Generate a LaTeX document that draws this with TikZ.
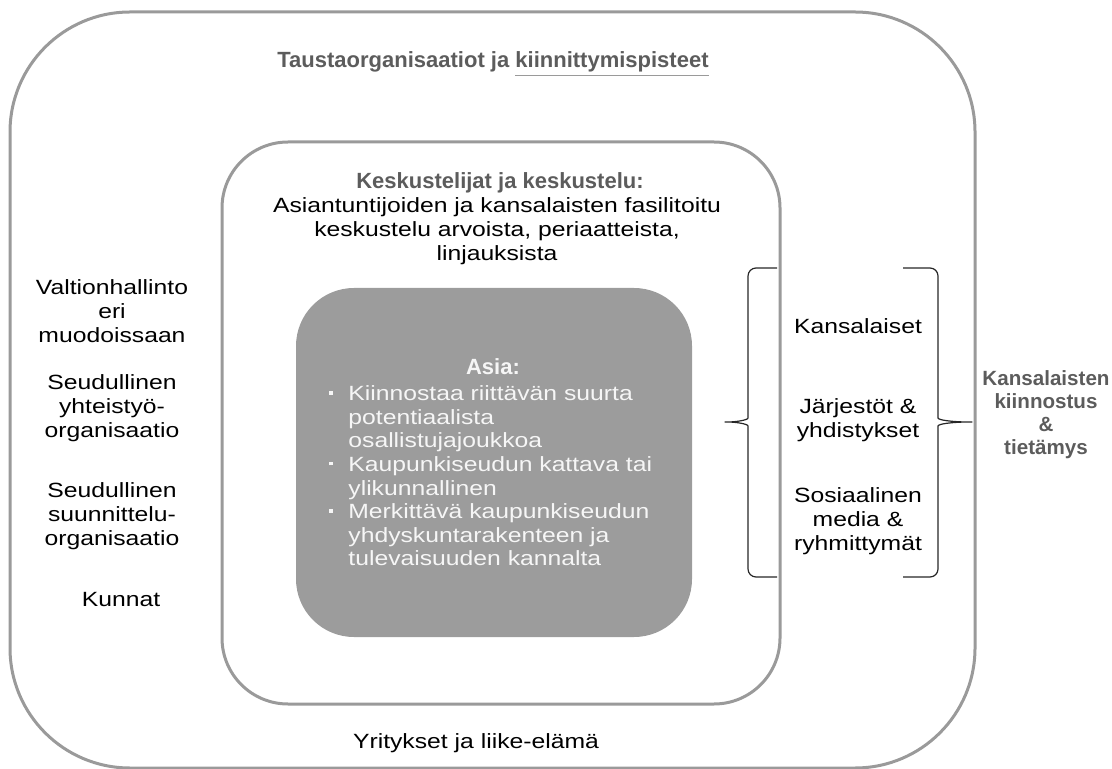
\documentclass[tikz,border=0pt]{standalone}
\usepackage{fontspec}
\setmainfont[FakeStretch=1.2]{Liberation Sans}
\newfontface\headfont{Liberation Sans Bold}
\usetikzlibrary{positioning}
\definecolor{headgray}{HTML}{5C5C5C}
\definecolor{linegray}{HTML}{9A9A9A}
\definecolor{asiagray}{HTML}{9C9C9C}
\definecolor{asiatext}{HTML}{F6F6F6}
\newcommand{\asiabullet}{\makebox[9.5pt][l]{\raisebox{0.3em}{\rule{1.6pt}{1.6pt}}}}
\newcommand{\asiaindent}{\hspace*{9.5pt}}
\begin{document}
\begin{tikzpicture}[x=0.5pt,y=-0.5pt]

		\tikzstyle{boxframe}=[rectangle,
			draw=linegray,line width=1.5pt,
			inner sep=0pt]
		\tikzstyle{txt}=[align=center,inner sep=0pt,
			font=\fontsize{10.3}{12}\selectfont]
		\tikzstyle{heading}=[align=center,inner sep=0pt,
			text=headgray,
			font=\headfont\fontsize{11}{12}\selectfont]
		\tikzstyle{curly}=[draw=black!85,line width=0.6pt,
			rounded corners=4pt]

		\useasboundingbox (0,0) rectangle (1112,769);

		% boxes
		\node[boxframe,minimum width=482.5pt,minimum height=378pt,rounded corners=60pt]	(outer)	at (492.5,390) {};
		\node[boxframe,minimum width=279pt,minimum height=281pt,rounded corners=33pt]	(inner)	at (501,423) {};
		\node[rectangle,fill=asiagray,minimum width=198pt,minimum height=174.5pt,rounded corners=29pt]	(asia)	at (494,462.5) {};

		% headings
		\node[heading]	(tausta)	at (493,64)	{Taustaorganisaatiot ja {\color{linegray}\underline{\color{headgray}kiinnittymispisteet}}};
		\node[heading]	(kesk-head)	at (500,183)	{Keskustelijat ja keskustelu:};
		\node[txt]	(kesk-text)	at (497,231)	{Asiantuntijoiden ja kansalaisten fasilitoitu\\ keskustelu arvoista, periaatteista,\\ linjauksista};
		\node[heading,text=asiatext]	(asia-head)	at (493,367)	{Asia:};
		\node[txt,align=left,anchor=west,text=asiatext,font=\fontsize{10.3}{11.8}\selectfont]	(asia-list)	at (329,476)
			{\asiabullet Kiinnostaa riittävän suurta\\ \asiaindent potentiaalista\\ \asiaindent osallistujajoukkoa\\
			 \asiabullet Kaupunkiseudun kattava tai\\ \asiaindent ylikunnallinen\\
			 \asiabullet Merkittävä kaupunkiseudun\\ \asiaindent yhdyskuntarakenteen ja\\ \asiaindent tulevaisuuden kannalta};

		% background organisations
		\node[txt]	(valtio)	at (112,311)	{Valtionhallinto\\ eri\\ muodoissaan};
		\node[txt]	(yhteistyo)	at (112,408)	{Seudullinen\\ yhteistyö-\\ organisaatio};
		\node[txt]	(suunnittelu)	at (112,516)	{Seudullinen\\ suunnittelu-\\ organisaatio};
		\node[txt]	(kunnat)	at (121,600)	{Kunnat};
		\node[txt]	(yritykset)	at (476,743)	{Yritykset ja liike-elämä};

		% citizens
		\node[txt]	(kansalaiset)	at (858,326)	{Kansalaiset};
		\node[txt]	(jarjestot)	at (858,420)	{Järjestöt \&\\ yhdistykset};
		\node[txt]	(some)	at (858,521)	{Sosiaalinen\\ media \&\\ ryhmittymät};
		\node[heading,font=\headfont\fontsize{10.3}{11.5}\selectfont]	(kiinnostus)	at (1046,415)	{Kansalaisten\\ kiinnostus\\ \&\\ tietämys};

		% braces
		\coordinate	(lbrace-top)	at (777,268);
		\coordinate	(lbrace-tip)	at (720,422);
		\coordinate	(lbrace-bot)	at (777,577);
		\coordinate	(rbrace-top)	at (903,268);
		\coordinate	(rbrace-tip)	at (977,422);
		\coordinate	(rbrace-bot)	at (903,577);

		\draw[curly]	(lbrace-top)	--	(748,268)	--	(748,410)
			.. controls (748,420) and (736,422) ..	(lbrace-tip)
			.. controls (736,422) and (748,424) ..	(748,434)	--	(748,577)	--	(lbrace-bot);
		\draw[curly]	(rbrace-top)	--	(938,268)	--	(938,410)
			.. controls (938,420) and (952,422) ..	(rbrace-tip)
			.. controls (952,422) and (938,424) ..	(938,434)	--	(938,577)	--	(rbrace-bot);

	\end{tikzpicture}
\end{document}
